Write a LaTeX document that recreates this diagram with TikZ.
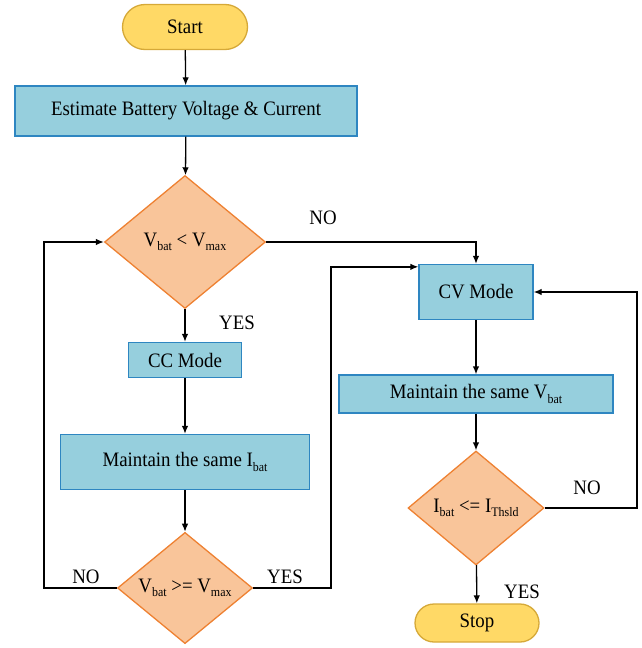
\documentclass[tikz,border=0pt]{standalone}
\usepackage{fontspec}
\setmainfont{Liberation Serif}[FakeStretch=0.92]
\usetikzlibrary{shapes.geometric,shapes.misc,arrows.meta}
\definecolor{termfill}{HTML}{FFD966}
\definecolor{termdraw}{HTML}{D6A938}
\definecolor{boxfill}{HTML}{96CFDD}
\definecolor{boxdraw}{HTML}{2E86C1}
\definecolor{decfill}{HTML}{F9C59A}
\definecolor{decdraw}{HTML}{EE8132}
\newcommand{\sbs}[1]{\raisebox{-0.22em}{\fontsize{13}{14}\selectfont #1}}
\tikzset{
  every node/.style={font=\fontsize{20.5}{23}\selectfont, inner sep=0pt},
  term/.style={rounded rectangle, draw=termdraw, fill=termfill, line width=1.3pt},
  procbox/.style={rectangle, draw=boxdraw, fill=boxfill, line width=1.3pt},
  decision/.style={diamond, draw=decdraw, fill=decfill, line width=1.3pt},
  conn/.style={line width=1.3pt, -{Latex[length=8pt,width=6.5pt]}},
  lbl/.style={}
}
\begin{document}
\begin{tikzpicture}[x=1pt,y=-1pt]
\useasboundingbox (0,0) rectangle (641,648);
% nodes
\node[term, minimum width=125pt, minimum height=45pt] (start) at (185,27) {Start};
\node[procbox, minimum width=342pt, minimum height=50pt] (est) at (186,111) {Estimate Battery Voltage \& Current};
\node[decision, minimum width=161pt, minimum height=133pt] (d1) at (185,242) {V\sbs{bat} < V\sbs{max}};
\node[procbox, minimum width=113pt, minimum height=35pt] (cc) at (185,360) {CC Mode};
\node[procbox, minimum width=249pt, minimum height=55pt] (m1) at (185,462) {Maintain the same I\sbs{bat}};
\node[decision, minimum width=135pt, minimum height=111pt] (d2) at (185,588) {V\sbs{bat} >= V\sbs{max}};
\node[procbox, minimum width=114pt, minimum height=55pt] (cv) at (476,292) {CV Mode};
\node[procbox, minimum width=274pt, minimum height=38pt] (m2) at (476,394) {Maintain the same V\sbs{bat}};
\node[decision, minimum width=136pt, minimum height=114pt] (d3) at (476,508) {I\sbs{bat} <= I\sbs{Thsld}};
\node[term, minimum width=124pt, minimum height=38pt] (stop) at (477,623) {Stop};
% helper coordinates
\coordinate (lx) at (44,0);
\coordinate (rx) at (331,0);
\coordinate (rx2) at (637,0);
% labels
\node[lbl] (no1) at (323,218) {NO};
\node[lbl] (yes1) at (237,323) {YES};
\node[lbl] (no2) at (86,577) {NO};
\node[lbl] (yes2) at (285,577) {YES};
\node[lbl] (no3) at (587,488) {NO};
\node[lbl] (yes3) at (522,592) {YES};
% connectors
\draw[conn] (start) -- (est);
\draw[conn] (est) -- (d1);
\draw[conn] (d1) -- (cc);
\draw[conn] (cc) -- (m1);
\draw[conn] (m1) -- (d2);
\draw[conn] (d1.east) -| (cv.north);
\draw[conn] (d2.west) -- (d2.west -| lx) |- (d1.west);
\draw[conn] (d2.east) -- (d2.east -| rx) |- ([yshift=-3pt]cv.north west);
\draw[conn] (cv) -- (m2);
\draw[conn] (m2) -- (d3);
\draw[conn] (d3) -- (stop);
\draw[conn] (d3.east) -- (d3.east -| rx2) |- (cv.east);
\end{tikzpicture}
\end{document}
